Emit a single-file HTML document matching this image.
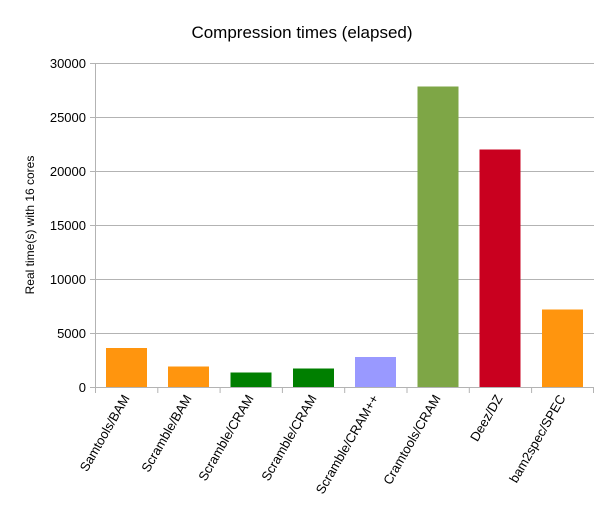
<!DOCTYPE html>
<html><head><style>body{margin:0;background:#fff}</style></head><body>
<svg width="605" height="512" xmlns="http://www.w3.org/2000/svg" font-family="Liberation Sans, sans-serif">
<rect width="605" height="512" fill="#fff"/>
<text x="302" y="38" text-anchor="middle" font-size="17">Compression times (elapsed)</text>
<g stroke="#b3b3b3" stroke-width="1">
<line x1="90" y1="63.5" x2="594" y2="63.5"/>
<line x1="90" y1="117.5" x2="594" y2="117.5"/>
<line x1="90" y1="171.5" x2="594" y2="171.5"/>
<line x1="90" y1="225.5" x2="594" y2="225.5"/>
<line x1="90" y1="279.5" x2="594" y2="279.5"/>
<line x1="90" y1="333.5" x2="594" y2="333.5"/>
<line x1="90" y1="387.5" x2="594" y2="387.5"/>
<line x1="95.5" y1="63" x2="95.5" y2="387"/>
<line x1="95.5" y1="387" x2="95.5" y2="393"/><line x1="157.8" y1="387" x2="157.8" y2="393"/><line x1="220.1" y1="387" x2="220.1" y2="393"/><line x1="282.4" y1="387" x2="282.4" y2="393"/><line x1="344.7" y1="387" x2="344.7" y2="393"/><line x1="407" y1="387" x2="407" y2="393"/><line x1="469.3" y1="387" x2="469.3" y2="393"/><line x1="531.6" y1="387" x2="531.6" y2="393"/><line x1="593.5" y1="387" x2="593.5" y2="393"/>
</g>
<g font-size="13" text-anchor="end">
<text x="86" y="68">30000</text><text x="86" y="122">25000</text><text x="86" y="176">20000</text><text x="86" y="230">15000</text><text x="86" y="284">10000</text><text x="86" y="338">5000</text><text x="86" y="392">0</text>
</g>
<text transform="translate(34,225) rotate(-90)" text-anchor="middle" font-size="12">Real time(s) with 16 cores</text>
<g>
<rect x="106" y="348" width="41" height="39" fill="#ff950e"/>
<rect x="168" y="366.5" width="41" height="20.5" fill="#ff950e"/>
<rect x="230.5" y="372.5" width="41" height="14.5" fill="#007f00"/>
<rect x="293" y="368.5" width="41" height="18.5" fill="#007f00"/>
<rect x="355" y="357" width="41" height="30" fill="#9999ff"/>
<rect x="417.5" y="86.5" width="41" height="300.5" fill="#7ea646"/>
<rect x="479.5" y="149.5" width="41" height="237.5" fill="#c9001f"/>
<rect x="542" y="309.5" width="41" height="77.5" fill="#ff950e"/>
</g>
<g font-size="13" text-anchor="end">
<text transform="translate(130,398) rotate(-60)">Samtools/BAM</text>
<text transform="translate(192,398) rotate(-60)">Scramble/BAM</text>
<text transform="translate(254,398) rotate(-60)">Scramble/CRAM</text>
<text transform="translate(317,398) rotate(-60)">Scramble/CRAM</text>
<text transform="translate(379,398) rotate(-60)">Scramble/CRAM++</text>
<text transform="translate(441,398) rotate(-60)">Cramtools/CRAM</text>
<text transform="translate(503,398) rotate(-60)">Deez/DZ</text>
<text transform="translate(566,398) rotate(-60)">bam2spec/SPEC</text>
</g>
</svg>
</body></html>
